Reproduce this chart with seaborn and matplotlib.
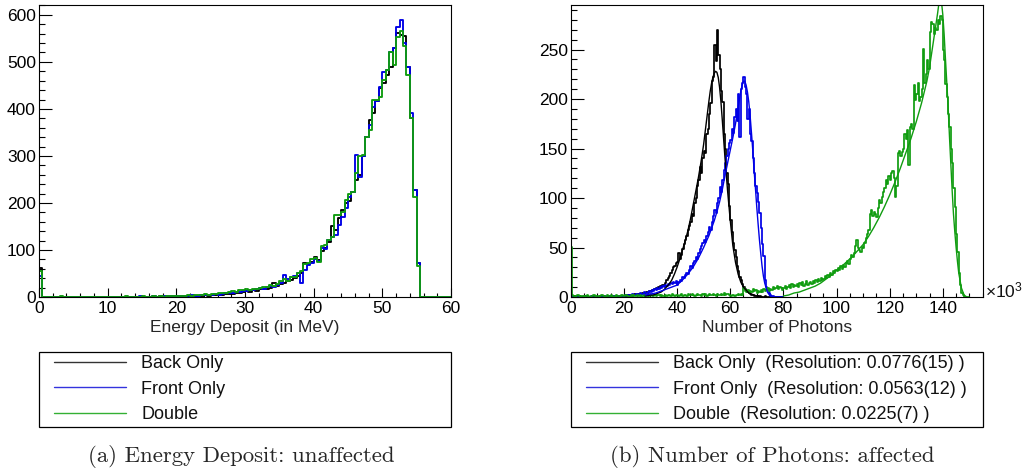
import numpy as np
import pandas as pd
import matplotlib
matplotlib.use("Agg")
import matplotlib.pyplot as plt
from matplotlib.lines import Line2D
from matplotlib.legend_handler import HandlerLine2D
from matplotlib.ticker import MultipleLocator
import seaborn as sns

# ---------------- data: left panel (energy deposit, 0.5 MeV bins from 0) ----------------
BACK_E = [62, 0, 1, 0, 0, 1, 0, 0, 1, 0,
          0, 1, 0, 0, 1, 0, 1, 0, 0, 1,
          1, 0, 1, 0, 1, 1, 0, 1, 0, 1,
          1, 1, 0, 1, 1, 2, 1, 1, 2, 1,
          2, 1, 2, 2, 3, 2, 3, 3, 4, 3,
          4, 5, 4, 5, 6, 6, 7, 8, 8, 10,
          12, 11, 14, 13, 16, 18, 17, 20, 29, 24,
          28, 30, 33, 36, 40, 45, 52, 72, 70, 75,
          86, 78, 98, 104, 118, 150, 143, 167, 185, 199,
          205, 224, 249, 260, 299, 341, 377, 391, 416, 444,
          455, 472, 490, 529, 561, 557, 555, 490, 380, 228,
          72, 0, 0, 0, 0, 0, 0, 0, 0, 0]
FRONT_E = [45, 0, 0, 1, 0, 0, 0, 1, 0, 0,
           1, 0, 0, 0, 1, 0, 0, 1, 0, 1,
           0, 1, 0, 1, 0, 1, 1, 0, 1, 2,
           1, 0, 1, 2, 1, 1, 2, 3, 2, 2,
           3, 2, 2, 3, 4, 3, 3, 4, 5, 4,
           5, 6, 5, 7, 8, 9, 8, 10, 11, 12,
           13, 15, 14, 17, 19, 18, 21, 23, 22, 26,
           30, 47, 38, 42, 45, 50, 30, 57, 68, 72,
           80, 76, 105, 103, 121, 128, 132, 153, 171, 190,
           213, 224, 302, 256, 299, 341, 365, 405, 416, 447,
           479, 483, 522, 529, 575, 589, 540, 490, 391, 228,
           72, 0, 0, 0, 0, 0, 0, 0, 0, 0]
DOUBLE_E = [55, 1, 0, 0, 0, 1, 2, 0, 1, 0,
            0, 1, 1, 0, 0, 1, 0, 1, 1, 0,
            1, 0, 1, 1, 0, 2, 1, 1, 0, 1,
            2, 1, 1, 2, 1, 2, 1, 2, 3, 2,
            2, 3, 3, 4, 3, 4, 4, 5, 6, 5,
            7, 6, 8, 9, 8, 10, 12, 11, 14, 15,
            16, 15, 18, 17, 20, 22, 21, 25, 24, 27,
            35, 38, 35, 43, 42, 52, 56, 70, 73, 80,
            84, 75, 108, 110, 121, 128, 174, 174, 180, 206,
            220, 224, 263, 299, 302, 341, 355, 419, 419, 426,
            462, 483, 522, 494, 554, 565, 533, 472, 380, 213,
            65, 0, 0, 0, 0, 0, 0, 0, 0, 0]

# ---------------- data: right panel (number of photons, x10^3, 0.5k bins from 0) ----------------
BACK_N = [0, 0, 1, 0, 0, 0, 1, 0, 0, 0, 0, 1, 0, 0, 0, 0, 1, 0, 0, 0,
          0, 0, 1, 0, 0, 1, 0, 0, 1, 0, 0, 1, 0, 1, 0, 0, 1, 0, 1, 1,
          1, 1, 2, 1, 2, 2, 1, 2, 3, 2, 2, 3, 2, 3, 4, 3, 4, 5, 4, 6,
          6, 7, 7, 8, 9, 8, 10, 11, 10, 12, 12, 14, 17, 19, 21, 24, 27, 30, 31, 34,
          35, 44, 38, 42, 48, 54, 58, 62, 68, 72, 76, 84, 82, 95, 100, 112, 118, 131, 125, 140,
          148, 145, 165, 170, 185, 196, 218, 222, 255, 238, 270, 244, 230, 208, 197, 165, 150, 125, 114, 92,
          78, 66, 55, 47, 40, 31, 26, 20, 17, 13, 10, 8, 6, 5, 4, 3, 2, 2, 1, 1,
          1, 0, 1, 0, 0, 0, 1, 0, 0, 0, 0, 0, 0, 0, 0, 0, 0, 0, 0, 0]
FRONT_N = [0, 1, 0, 0, 0, 0, 1, 0, 0, 0, 1, 0, 0, 0, 0, 1, 0, 0, 1, 0,
           0, 0, 1, 0, 0, 1, 0, 1, 0, 1, 0, 1, 1, 0, 1, 0, 1, 1, 0, 1,
           1, 2, 1, 2, 2, 1, 3, 2, 2, 3, 3, 2, 4, 3, 3, 5, 4, 4, 5, 6,
           5, 7, 6, 8, 7, 9, 8, 10, 9, 11, 10, 12, 11, 13, 12, 14, 13, 15, 14, 16,
           12, 15, 17, 16, 20, 19, 22, 24, 23, 27, 31, 29, 34, 36, 40, 38, 44, 48, 52, 55,
           58, 56, 62, 66, 71, 68, 76, 82, 88, 85, 95, 100, 111, 106, 118, 128, 135, 142, 150, 156,
           159, 170, 166, 182, 190, 178, 205, 162, 210, 216, 222, 212, 205, 180, 190, 165, 158, 140, 125, 112,
           105, 96, 85, 70, 54, 41, 17, 10, 7, 4, 2, 1, 1, 0, 0, 0, 0, 0, 0, 0]
DOUBLE_N = [51, 2, 1, 0, 1, 2, 1, 0, 1, 1, 0, 1, 2, 1, 0, 1, 1, 2, 0, 1,
            1, 0, 1, 2, 1, 1, 0, 2, 1, 1, 2, 1, 0, 1, 2, 1, 1, 0, 2, 1,
            1, 2, 1, 1, 0, 2, 1, 2, 1, 1, 2, 1, 2, 0, 1, 2, 1, 1, 2, 1,
            2, 1, 1, 2, 1, 2, 2, 1, 2, 1, 1, 2, 1, 2, 2, 1, 3, 2, 1, 2,
            2, 1, 2, 3, 1, 2, 2, 1, 3, 2, 2, 3, 2, 1, 2, 3, 2, 2, 1, 3,
            2, 3, 1, 2, 3, 2, 2, 3, 2, 1, 3, 2, 2, 3, 2, 4, 2, 3, 3, 2,
            1, 2, 2, 1, 2, 2, 3, 2, 3, 2, 9, 6, 5, 7, 4, 6, 5, 8, 6, 7,
            4, 6, 5, 7, 5, 8, 6, 7, 9, 6, 8, 7, 10, 8, 9, 11, 8, 10, 9, 7,
            9, 11, 8, 10, 12, 9, 13, 10, 12, 11, 13, 10, 14, 12, 15, 11, 13, 16, 12, 14,
            15, 13, 16, 14, 17, 15, 18, 16, 19, 17, 18, 21, 19, 22, 20, 24, 22, 26, 24, 27,
            26, 29, 27, 31, 28, 32, 30, 34, 36, 33, 38, 42, 40, 44, 52, 58, 50, 47, 45, 51,
            49, 55, 60, 64, 68, 84, 88, 82, 86, 84, 81, 90, 98, 95, 101, 106, 110, 118, 114, 122,
            118, 125, 127, 120, 101, 112, 145, 148, 142, 146, 150, 165, 160, 169, 133, 172, 175, 170, 214, 199,
            205, 216, 198, 202, 210, 251, 216, 225, 239, 230, 268, 278, 276, 266, 272, 270, 280, 276, 284, 280,
            250, 239, 215, 202, 185, 172, 150, 135, 110, 91, 64, 45, 24, 12, 4, 2, 0, 0, 0, 0]

# fit curves (x in 10^3 photons)
BACK_FIT_X = [28, 30, 31, 32, 33, 34, 35, 36, 37, 38, 39, 40, 41, 42, 43, 44, 45, 46, 47, 48, 49, 50, 51,
              52, 52.5, 53, 53.5, 54, 54.5, 55, 55.5, 56, 56.5, 57, 57.5, 58, 59, 60, 61, 62, 63, 64, 65,
              66, 67, 68, 69, 70, 72]
BACK_FIT_Y = [1, 2, 2, 3, 4, 5, 7, 10, 13, 17, 23, 30, 38, 47, 56, 66, 78, 92, 106, 120, 136, 154, 176,
              198, 208, 216, 222, 226, 228, 227, 222, 212, 198, 180, 161, 142, 108, 78, 52, 35, 23, 15, 10,
              7, 4, 3, 2, 1, 0]
FRONT_FIT_X = [28, 30, 32, 34, 36, 38, 40, 42, 44, 46, 48, 50, 52, 54, 55, 56, 57, 58, 59, 60, 61, 62, 63,
               64, 64.5, 65, 65.5, 66, 66.5, 67, 67.5, 68, 68.5, 69, 69.5, 70, 70.5, 71, 71.5, 72, 72.5, 73,
               74, 75, 76]
FRONT_FIT_Y = [2, 3, 4, 6, 8, 10, 12, 17, 23, 30, 39, 50, 62, 77, 86, 96, 108, 122, 135, 148, 161, 175, 192,
               208, 214, 218, 218, 214, 207, 197, 183, 166, 148, 128, 110, 91, 74, 58, 44, 31, 21, 14,
               5, 1, 0]
DOUBLE_FIT_X = [80, 82, 84, 86, 88, 90, 92, 94, 96, 98, 100, 102, 104, 106, 108, 110, 112, 114, 116, 118,
                120, 122, 124, 126, 128, 130, 132, 134, 135, 136, 137, 138, 138.5, 139, 139.5, 140, 140.5,
                141, 141.5, 142, 142.5, 143, 143.5, 144, 144.5, 145, 145.5, 146, 147, 148, 149]
DOUBLE_FIT_Y = [1, 2, 4, 5, 7, 9, 11, 14, 18, 22, 27, 31, 36, 41, 47, 53, 61, 70, 80, 91,
                103, 116, 130, 145, 160, 177, 196, 218, 232, 250, 268, 286, 296, 302, 298, 285, 265,
                240, 216, 192, 162, 135, 108, 84, 66, 50, 36, 24, 9, 2, 0]

LABELS_A = ["Back Only", "Front Only", "Double"]
LABELS_B = ["Back Only  (Resolution: 0.0776(15) )",
            "Front Only  (Resolution: 0.0563(12) )",
            "Double  (Resolution: 0.0225(7) )"]
CAPTION_A = "(a) Energy Deposit: unaffected"
CAPTION_B = "(b) Number of Photons: affected"
XLABEL_A = "Energy Deposit (in MeV)"
XLABEL_B = "Number of Photons"

# ---------------- style ----------------
sns.set_theme(style="ticks")
plt.rcParams["font.family"] = ["Liberation Sans", "DejaVu Sans"]
plt.rcParams["mathtext.fontset"] = "custom"
plt.rcParams["mathtext.rm"] = "Liberation Sans"
plt.rcParams["mathtext.it"] = "Liberation Sans"
plt.rcParams["mathtext.bf"] = "Liberation Sans"

COLORS = ["#000000", "#0000e6", "#109c10"]
LEG_COLORS = ["#333333", "#3333dd", "#33b033"]
TICK_FS = 12.5
LABEL_FS = 12.5
LEG_FS = 13

W, H = 1022, 476
fig = plt.figure(figsize=(W / 100, H / 100), dpi=100)


def fx(px):
    return px / W


def fy(px):
    return 1 - px / H


ax_a = fig.add_axes([fx(39), fy(297), fx(412), (297 - 5) / H])
ax_b = fig.add_axes([fx(570.7), fy(297), fx(412), (297 - 5) / H])


def draw_hist(ax, values, width, color, lw):
    n = len(values)
    centers = (np.arange(n) + 0.5) * width
    df = pd.DataFrame({"x": centers, "w": np.asarray(values, dtype=float)})
    sns.histplot(data=df, x="x", weights="w", binwidth=width, binrange=(0, n * width),
                 element="step", fill=False, color=color, linewidth=lw, ax=ax)


for vals, c in zip([BACK_E, FRONT_E, DOUBLE_E], COLORS):
    draw_hist(ax_a, vals, 0.5, c, 1.35)

for vals, c in zip([BACK_N, FRONT_N, DOUBLE_N], COLORS):
    draw_hist(ax_b, vals, 0.5, c, 1.25)

for fxs, fys, c in zip([BACK_FIT_X, FRONT_FIT_X, DOUBLE_FIT_X],
                       [BACK_FIT_Y, FRONT_FIT_Y, DOUBLE_FIT_Y], COLORS):
    sns.lineplot(x=fxs, y=fys, color=c, linewidth=1.0, ax=ax_b, sort=False)


def style_axes(ax, xlim, ylim, xmaj, xmin, ymaj, ymin, xlabel):
    ax.set_xlim(*xlim)
    ax.set_ylim(*ylim)
    ax.set_ylabel("")
    ax.set_xlabel(xlabel, fontsize=LABEL_FS, labelpad=3)
    ax.xaxis.set_major_locator(MultipleLocator(xmaj))
    ax.xaxis.set_minor_locator(MultipleLocator(xmin))
    ax.yaxis.set_major_locator(MultipleLocator(ymaj))
    ax.yaxis.set_minor_locator(MultipleLocator(ymin))
    ax.tick_params(axis="both", which="both", direction="in", color="#000000", width=0.8,
                   top=False, right=False, labelsize=TICK_FS, labelcolor="#000000")
    ax.tick_params(axis="y", which="major", length=9.1, pad=2.2)
    ax.tick_params(axis="y", which="minor", length=4.5)
    ax.tick_params(axis="x", which="major", length=6.2, pad=3.0)
    ax.tick_params(axis="x", which="minor", length=3.1)
    for s in ax.spines.values():
        s.set_visible(True)
        s.set_color("#000000")
        s.set_linewidth(0.8)
    ax.set_facecolor("white")


style_axes(ax_a, (0, 60), (0, 621), 10, 2, 100, 20, XLABEL_A)
style_axes(ax_b, (0, 155), (0, 295), 20, 5, 50, 10, XLABEL_B)

ax_b.annotate("×10$^{3}$", xy=(1.0, 0.0), xycoords="axes fraction", xytext=(1.5, 0),
              textcoords="offset points", ha="left", va="baseline", fontsize=TICK_FS,
              color="#111111", annotation_clip=False)

# ---------------- legends ----------------
handles = [Line2D([], [], color=c, linewidth=1.0) for c in LEG_COLORS]
fs_px = LEG_FS * 100 / 72
bp = 0.2
hl = (126 - 39 - bp * fs_px) / fs_px
xpad = (54 - 39 - bp * fs_px) / fs_px


def add_legend(x0_px, labels):
    leg = fig.legend(handles, labels, loc="upper left",
                     bbox_to_anchor=(fx(x0_px), 0.0, fx(412), fy(351.7)),
                     bbox_transform=fig.transFigure, mode="expand",
                     fontsize=LEG_FS, frameon=True, fancybox=False, shadow=False,
                     framealpha=1, edgecolor="#000000", borderpad=bp, borderaxespad=0,
                     labelspacing=0.46, handlelength=hl, handletextpad=0.85,
                     handler_map={Line2D: HandlerLine2D(xpad=xpad)})
    leg.get_frame().set_linewidth(0.9)
    for t in leg.get_texts():
        t.set_color("#111111")
    return leg


add_legend(39, LABELS_A)
add_legend(570.7, LABELS_B)

# ---------------- captions ----------------
fig.text(fx(241), fy(456), CAPTION_A, ha="center", va="center", family="cmr10", fontsize=16.4)
fig.text(fx(772), fy(456), CAPTION_B, ha="center", va="center", family="cmr10", fontsize=16.4)

fig.savefig("out.png", dpi=100, facecolor="white")
